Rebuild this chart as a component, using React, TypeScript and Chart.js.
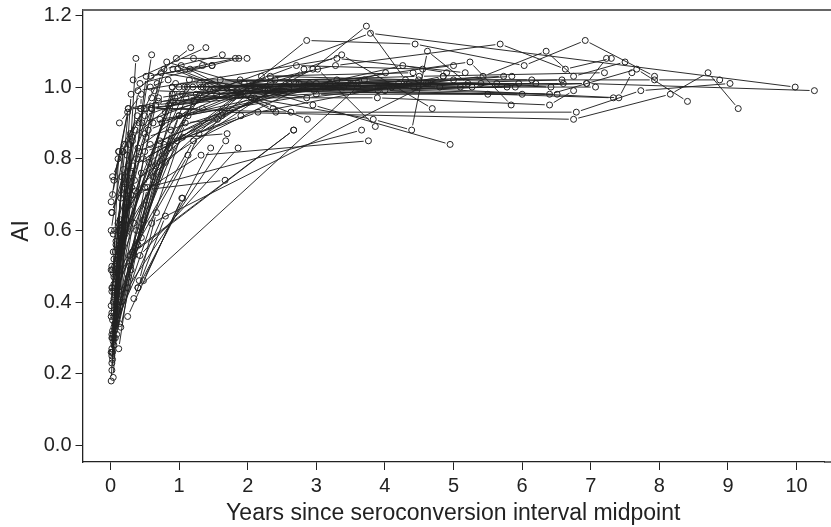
import React, { useEffect, useRef } from "react";
import { Chart, registerables } from "chart.js";

Chart.register(...registerables);

type Pt = [number, number];

const xTitle = "Years since seroconversion interval midpoint";
const yTitle = "AI";

// [years, AI] readings for each subject
const longFollowUp: Pt[][] = [
  [[0.05, 0.45], [0.32, 0.86], [1.2, 1.0], [6.94, 1.01], [10.26, 0.99]],
  [[0.5, 0.92], [3.79, 1.15], [9.98, 1.0]],
  [[0.06, 0.5], [0.26, 0.94], [3.28, 1.06], [5.68, 1.12], [6.63, 1.05], [7.3, 1.08]],
  [[0.03, 0.32], [0.33, 0.78], [1.63, 0.93], [6.75, 0.91], [8.16, 0.98], [8.71, 1.04], [9.15, 0.94]],
  [[0.6, 0.94], [2.63, 0.93], [6.79, 0.93], [7.73, 0.99], [9.03, 1.01]],
  [[0.1, 0.55], [0.74, 1.04], [2.86, 0.97], [5.43, 1.03], [6.35, 1.1], [6.75, 1.03], [7.5, 1.07]],
  [[0.05, 0.36], [0.45, 0.76], [2.86, 1.13], [4.44, 1.12], [6.03, 1.06], [6.92, 1.13], [7.93, 1.03]],
  [[0.4, 0.83], [1.5, 0.99], [6.4, 0.98], [7.67, 1.05], [8.41, 0.96]],
  [[0.07, 0.49], [0.9, 0.98], [3.0, 1.01], [7.41, 0.97], [7.6, 1.04]],
  [[0.55, 0.88], [2.1, 1.0], [7.33, 0.97]],
  [[0.12, 0.6], [1.0, 1.0], [5.0, 1.02], [7.93, 1.02], [8.88, 1.02]],
  [[0.7, 0.96], [4.0, 0.99], [6.94, 1.01], [7.23, 1.08]],
  [[0.09, 0.52], [0.95, 1.01], [4.5, 1.03], [7.2, 1.04]],
  [[0.62, 0.9], [3.1, 1.0], [7.07, 1.0]],
  [[0.05, 0.47], [1.1, 0.97], [3.89, 0.97], [6.4, 0.95], [6.75, 0.99]],
];

const midFollowUp: Pt[][] = [
  [[0.48, 0.8], [2.95, 1.05], [3.73, 1.17], [4.3, 1.02]],
  [[0.06, 0.44], [0.4, 0.99], [3.3, 1.08], [5.17, 1.04]],
  [[0.35, 0.74], [2.82, 1.05], [3.37, 1.09], [4.69, 0.94]],
  [[0.08, 0.57], [0.82, 1.07], [2.95, 0.95], [4.95, 0.84]],
  [[0.02, 0.3], [0.24, 0.68], [1.32, 0.81], [3.76, 0.85]],
  [[0.4, 0.44], [3.6, 1.0]],
  [[0.6, 0.62], [4.85, 1.03]],
  [[0.05, 0.33], [0.54, 0.72], [3.66, 0.88]],
  [[0.42, 0.82], [2.05, 0.97], [3.83, 0.91], [4.39, 0.88], [4.62, 1.1], [5.21, 1.01]],
  [[0.04, 0.48], [0.8, 0.93], [3.02, 1.05], [3.86, 0.89]],
  [[1.0, 0.92], [4.26, 1.06], [4.9, 1.04]],
  [[0.46, 0.9], [2.71, 1.06], [4.55, 1.05], [5.0, 1.06]],
  [[0.05, 0.43], [0.66, 0.95], [2.3, 0.99], [5.24, 1.07], [5.84, 0.95]],
  [[0.9, 1.0], [3.5, 1.01], [5.73, 1.03]],
  [[0.02, 0.26], [0.3, 0.7], [1.9, 0.98], [5.85, 1.03]],
  [[0.7, 0.97], [2.4, 1.02], [6.14, 1.02]],
  [[0.52, 0.86], [2.8, 1.0], [6.58, 1.02]],
  [[0.07, 0.54], [1.15, 1.02], [3.3, 1.02], [5.27, 1.0], [5.63, 1.01]],
  [[0.58, 0.84], [2.5, 0.99], [5.78, 1.0]],
  [[0.72, 0.91], [3.0, 0.98], [6.0, 0.98]],
  [[0.85, 0.95], [2.6, 1.0], [6.51, 0.98]],
  [[0.11, 0.62], [1.4, 1.0], [3.7, 1.02], [6.42, 1.0]],
  [[0.64, 0.99], [1.89, 0.98], [4.42, 1.0]],
  [[0.56, 0.79], [2.2, 1.03], [4.41, 1.04]],
  [[0.92, 0.96], [2.7, 1.01], [4.63, 1.01]],
  [[0.75, 0.9], [2.33, 1.03], [4.49, 1.02]],
  [[0.44, 0.94], [2.97, 0.99], [4.01, 1.04]],
  [[1.05, 0.98], [1.78, 0.97], [3.6, 1.01]],
  [[0.05, 0.3], [0.5, 0.82], [2.15, 0.93], [4.85, 1.03]],
  [[0.6, 0.94], [2.29, 0.99], [3.9, 1.0]],
];

// near-flat plateau runs that build the dark band around AI = 1.0
const plateauRuns: Pt[][] = [
  [[1.08, 1.0], [5.4, 1.01]],
  [[1.3, 1.01], [4.8, 1.0]],
  [[1.45, 0.99], [5.9, 1.0]],
  [[1.6, 1.02], [4.2, 1.01]],
  [[1.25, 0.98], [3.4, 1.0]],
  [[1.7, 1.0], [6.2, 1.01]],
  [[1.95, 1.01], [5.1, 1.0]],
  [[2.25, 0.99], [4.6, 1.01]],
  [[1.12, 1.0], [3.2, 1.01]],
  [[2.5, 1.0], [6.6, 1.01]],
  [[1.35, 1.0], [3.9, 0.99]],
  [[1.85, 0.99], [5.5, 0.98]],
  [[2.75, 1.01], [5.95, 1.01]],
  [[1.55, 0.98], [4.1, 1.0]],
];

const shortFollowUp: Pt[][] = [
  [[0.36, 0.71], [1.67, 0.74]],
  [[0.32, 0.54], [2.67, 0.88]],
  [[0.28, 0.53], [2.67, 0.88]],
  [[0.48, 0.46], [1.05, 0.69]],
  [[0.42, 0.46], [0.67, 0.65]],
  [[0.34, 0.41], [0.8, 0.64]],
  [[0.25, 0.36], [1.04, 0.69]],
  [[0.12, 0.27], [0.38, 0.6]],
  [[0.4, 0.44], [1.46, 0.83]],
  [[0.28, 0.5], [0.8, 0.79]],
  [[0.43, 0.53], [1.86, 0.83]],
  [[0.25, 0.44], [1.68, 0.85]],
  [[0.13, 0.34], [0.37, 1.08]],
  [[0.05, 0.41], [0.6, 1.09]],
  [[0.08, 0.36], [0.3, 0.98], [1.17, 1.11]],
  [[0.33, 1.02], [1.39, 1.11]],
  [[0.78, 1.05], [1.63, 1.09]],
  [[0.59, 1.03], [1.82, 1.08]],
  [[0.43, 1.01], [1.87, 1.08]],
  [[0.96, 1.08], [1.99, 1.08]],
  [[1.03, 1.06], [2.41, 0.93]],
  [[0.91, 1.05], [2.37, 0.94]],
  [[0.02, 0.25], [0.52, 1.03], [1.48, 1.06]],
  [[1.21, 1.08], [1.48, 1.06]],
  [[0.98, 1.05], [2.87, 0.91]],
  [[1.16, 1.05], [1.34, 1.06]],
  [[0.13, 0.9], [0.45, 0.98], [0.44, 0.94]],
  [[0.03, 0.7], [0.26, 0.94], [0.52, 0.94]],
  [[0.02, 0.65], [0.6, 0.94], [1.34, 0.94]],
  [[0.04, 0.59], [1.22, 0.96], [1.89, 1.02]],
  [[0.05, 0.52], [1.13, 0.92], [2.33, 1.01]],
  [[0.03, 0.3], [1.09, 0.9], [1.56, 0.91], [2.0, 0.98]],
  [[0.07, 0.34], [1.29, 0.87], [2.1, 0.97]],
  [[0.08, 0.56], [1.05, 0.86], [1.7, 0.87]],
  [[0.06, 0.42], [0.97, 0.85], [1.9, 0.92]],
  [[0.05, 0.37], [0.89, 0.85], [2.6, 1.01]],
  [[0.1, 0.48], [1.21, 0.85], [2.9, 1.01]],
  [[0.02, 0.44], [1.13, 0.81], [1.62, 0.92]],
  [[0.06, 0.32], [0.62, 0.75], [1.32, 1.0]],
  [[0.04, 0.29], [0.5, 0.72], [0.9, 1.0]],
  [[0.01, 0.18], [0.16, 0.75]],
  [[0.04, 0.19], [0.2, 0.7]],
  [[0.02, 0.21], [0.22, 0.66]],
  [[0.02, 0.23], [0.26, 0.78]],
  [[0.03, 0.24], [0.14, 0.6]],
  [[0.03, 0.26], [0.18, 0.82]],
  [[0.02, 0.27], [0.28, 0.84]],
  [[0.01, 0.26], [0.24, 0.81]],
  [[0.05, 0.28], [0.3, 0.76]],
  [[0.04, 0.31], [0.32, 0.85]],
  [[0.02, 0.31], [0.14, 0.63]],
  [[0.06, 0.34], [0.21, 0.73]],
  [[0.03, 0.35], [0.36, 0.88]],
  [[0.01, 0.36], [0.12, 0.82]],
  [[0.02, 0.37], [0.27, 0.67]],
  [[0.01, 0.39], [0.15, 0.69]],
  [[0.04, 0.4], [0.38, 0.8]],
  [[0.02, 0.43], [0.19, 0.77]],
  [[0.03, 0.44], [0.23, 0.63]],
  [[0.01, 0.49], [0.16, 0.58]],
  [[0.03, 0.49], [0.31, 0.72]],
  [[0.02, 0.5], [0.34, 0.62]],
  [[0.04, 0.54], [0.29, 0.87]],
  [[0.01, 0.6], [0.2, 0.84]],
  [[0.06, 0.6], [0.5, 0.87]],
  [[0.02, 0.65], [0.42, 0.9]],
  [[0.01, 0.68], [0.11, 0.8]],
  [[0.03, 0.75], [0.39, 0.92]],
  [[0.05, 0.74], [0.25, 0.93]],
  [[0.58, 1.0], [0.84, 1.02]],
  [[0.12, 0.82], [0.49, 0.94]],
  [[0.18, 0.82], [0.68, 1.01]],
  [[0.2, 0.72], [0.6, 0.97]],
  [[0.08, 0.34], [0.34, 0.53], [0.72, 0.85]],
  [[0.15, 0.33], [0.4, 0.56], [0.78, 0.84]],
  [[0.09, 0.31], [0.3, 0.49], [0.66, 0.78]],
  [[0.1, 0.38], [0.45, 0.58], [0.88, 0.88]],
  [[0.07, 0.3], [0.26, 0.47], [0.86, 0.83]],
  [[0.11, 0.44], [0.52, 0.67], [0.94, 0.97]],
  [[0.14, 0.4], [0.48, 0.63], [1.0, 0.92]],
];

const allSubjects: Pt[][] = [...longFollowUp, ...midFollowUp, ...plateauRuns, ...shortFollowUp];

const ink = "#222";
const markerGap = 4.8;

// R's type="b" look: each segment stops short of the markers at its two ends
const gappedDash = (ctx: any) => {
  const dist = Math.hypot(ctx.p1.x - ctx.p0.x, ctx.p1.y - ctx.p0.y);
  const visible = Math.max(dist - 2 * markerGap, 0);
  return [0, markerGap, visible, 10000];
};

// open-right R frame, plus the rotated y title a little above the axis centre
const framePlugin = {
  id: "frame",
  afterDatasetsDraw(chart: any) {
    const { ctx, chartArea: a, width } = chart;
    ctx.save();
    ctx.strokeStyle = "#666";
    ctx.lineWidth = 2;
    ctx.beginPath();
    ctx.moveTo(a.left, a.top);
    ctx.lineTo(width, a.top);
    ctx.stroke();
    ctx.strokeStyle = ink;
    ctx.lineWidth = 1.3;
    ctx.beginPath();
    ctx.moveTo(a.right, a.bottom);
    ctx.lineTo(width, a.bottom);
    ctx.stroke();
    ctx.translate(22, 231);
    ctx.rotate(-Math.PI / 2);
    ctx.fillStyle = ink;
    ctx.font = "23px 'Liberation Sans', Arial, sans-serif";
    ctx.textAlign = "center";
    ctx.textBaseline = "middle";
    ctx.fillText(yTitle, 0, 0);
    ctx.restore();
  },
};

export default function App() {
  const ref = useRef<HTMLCanvasElement>(null);
  useEffect(() => {
    const font = { family: "'Liberation Sans', Arial, sans-serif" };
    const chart = new Chart(ref.current!, {
      type: "line",
      data: {
        datasets: allSubjects.map((s) => ({
          data: s.map(([x, y]) => ({ x, y })),
          borderColor: ink,
          borderWidth: 0.95,
          tension: 0,
          fill: false,
          pointRadius: 3,
          pointBorderWidth: 1,
          pointBorderColor: ink,
          pointBackgroundColor: "rgba(0,0,0,0)",
          segment: { borderDash: gappedDash },
        })),
      },
      options: {
        animation: false,
        responsive: false,
        devicePixelRatio: 1,
        layout: { padding: { left: 0, top: 10, right: 7, bottom: 0 } },
        plugins: { legend: { display: false }, tooltip: { enabled: false } },
        scales: {
          x: {
            type: "linear",
            min: -0.408,
            max: 10.4,
            afterFit: (s: any) => { s.height = 65; s.paddingLeft = 0; s.paddingRight = 0; },
            border: { color: ink, width: 1.3 },
            grid: { drawOnChartArea: false, drawTicks: true, tickLength: 8, tickColor: ink, tickWidth: 1 },
            ticks: {
              stepSize: 1,
              includeBounds: false,
              autoSkip: false,
              maxRotation: 0,
              color: ink,
              padding: 4,
              font: { ...font, size: 20 },
            },
            title: { display: true, text: xTitle, color: ink, padding: { top: 0, bottom: 0 }, font: { ...font, size: 23 } },
          },
          y: {
            type: "linear",
            min: -0.046,
            max: 1.215,
            afterFit: (s: any) => { s.width = 82.5; s.paddingTop = 0; s.paddingBottom = 0; },
            border: { color: ink, width: 1.3 },
            grid: { drawOnChartArea: false, drawTicks: true, tickLength: 7, tickColor: ink, tickWidth: 1 },
            ticks: {
              stepSize: 0.2,
              includeBounds: false,
              color: ink,
              padding: 4,
              font: { ...font, size: 20 },
              callback: (v: any) => Number(v).toFixed(1),
            },
          },
        },
      },
      plugins: [framePlugin],
    } as any);
    return () => chart.destroy();
  }, []);
  return (
    <div style={{ position: "fixed", left: 0, top: 0, width: 831, height: 527, background: "#fff" }}>
      <canvas ref={ref} width={831} height={527} style={{ display: "block" }} />
    </div>
  );
}
